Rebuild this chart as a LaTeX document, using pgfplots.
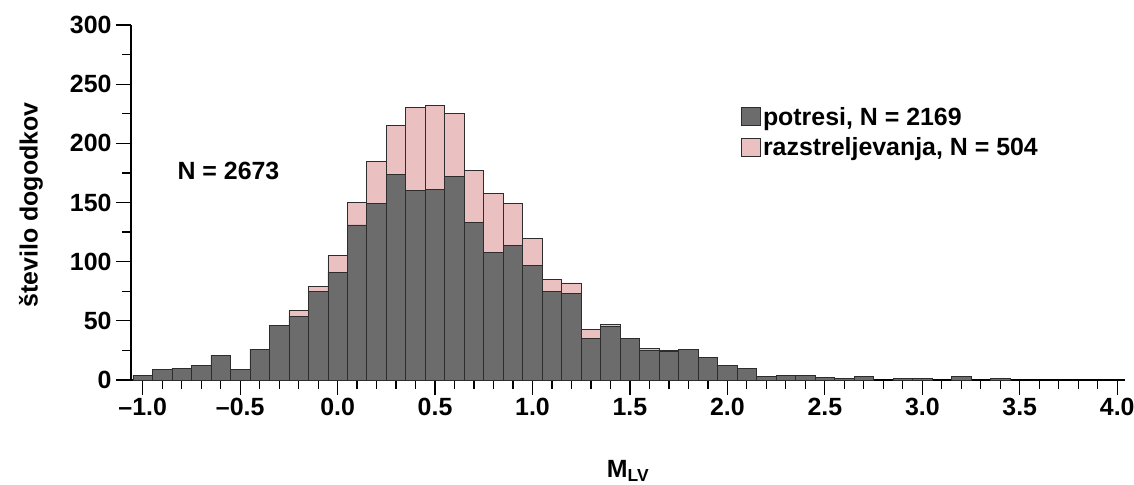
\documentclass[border=0pt]{standalone}
\usepackage{fontspec}
\setmainfont{Liberation Sans}
\usepackage{pgfplots}
\usepackage{pgfplotstable}
\pgfplotsset{compat=1.18}
\usetikzlibrary{calc}

\definecolor{potres}{RGB}{108,108,108}
\definecolor{razstrel}{RGB}{234,192,192}
\definecolor{rob}{RGB}{45,45,45}

% M, potresi, razstreljevanja
\pgfplotstableread{
m    g    p
-1.0 4    0
-0.9 9    0
-0.8 10   0
-0.7 12   0
-0.6 21   0
-0.5 9    0
-0.4 26   0
-0.3 46   0
-0.2 54   5
-0.1 75   4
0.0  91   14
0.1  131  19
0.2  149  36
0.3  174  41
0.4  160  70
0.5  161  71
0.6  172  53
0.7  133  44
0.8  108  50
0.9  114  35
1.0  97   23
1.1  75   10
1.2  73   9
1.3  35   8
1.4  45   2
1.5  35   0
1.6  25   2
1.7  24   1
1.8  26   0
1.9  19   0
2.0  12   0
2.1  10   0
2.2  3    0
2.3  4    0
2.4  4    0
2.5  2    0
2.6  1    0
2.7  3    0
2.8  0    0
2.9  1    0
3.0  1    0
3.1  0    0
3.2  3    0
3.3  0    0
3.4  1    0
3.5  0    0
3.6  0    0
3.7  0    0
3.8  0    0
3.9  0    0
4.0  0    0
}\hist

\newcommand{\lbl}{\bfseries\fontsize{25}{29}\selectfont}

\begin{document}
\begin{tikzpicture}
\begin{axis}[
  name=ax,
  scale only axis,
  width=994bp, height=355bp,
  xmin=-1.06, xmax=4.04, ymin=0, ymax=300,
  clip=false,
  axis x line*=bottom, axis y line*=left,
  x axis line style={line width=2.6bp, -},
  y axis line style={line width=1.8bp, -},
  ybar stacked, bar width=0.1,
  xtick={-1,-0.5,0,0.5,1,1.5,2,2.5,3,3.5,4},
  xticklabels={\textendash1.0,\textendash0.5,0.0,0.5,1.0,1.5,2.0,2.5,3.0,3.5,4.0},
  minor x tick num=4,
  ytick={0,50,100,150,200,250,300},
  yticklabels={0,50,100,150,200,250,300},
  minor y tick num=1,
  tick align=outside,
  major tick length=15bp, minor tick length=9bp,
  every tick/.style={black, line width=1.2bp},
  tick label style={font=\lbl},
  yticklabel style={xshift=-1bp},
  leg/.style={legend image code/.code={
      \draw[##1, draw=rob, line width=0.8bp] (0bp,-9bp) rectangle (19bp,9bp);}},
  legend style={at={(0.6137,0.775)}, anchor=north west, draw=none, fill=none,
    font=\lbl, cells={anchor=west}, row sep=7bp, inner sep=0pt},
]
\addplot[fill=potres, draw=rob, line width=0.7bp, leg] table[x=m, y=g] {\hist};
\addlegendentry{potresi, N = 2169}
\addplot[fill=razstrel, draw=rob, line width=0.7bp, leg] table[x=m, y=p] {\hist};
\addlegendentry{razstreljevanja, N = 504}

\node[font=\lbl] at (axis cs:-0.56,177) {N = 2673};
\node[font=\lbl, rotate=90] at (rel axis cs:-0.1006,0.493) {število dogodkov};
\node[font=\lbl, anchor=base] at (rel axis cs:0.5,-0.276) {M\textsubscript{LV}};
\end{axis}
\pgfresetboundingbox
\path ($(ax.south west)+(-131bp,-104bp)$) rectangle ($(ax.north east)+(9bp,25bp)$);
\end{tikzpicture}
\end{document}
